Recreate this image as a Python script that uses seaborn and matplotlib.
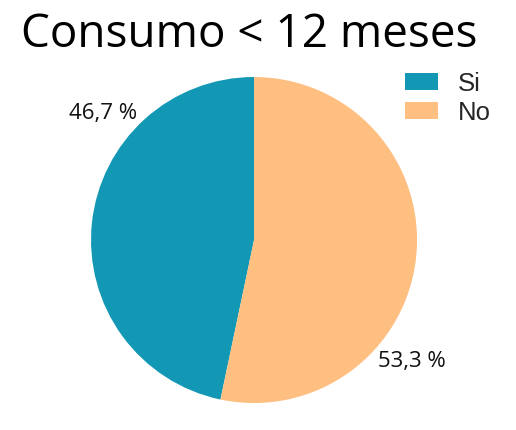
import matplotlib
matplotlib.use("Agg")
from matplotlib import pyplot as plt
from matplotlib.patches import Patch
import seaborn as sns

categorias = ["Si", "No"]
porcentajes = [46.7, 53.3]
etiquetas = ["46,7 %", "53,3 %"]
colores = ["#1298b4", "#ffbf80"]

sns.set_theme(style="white")
plt.rcParams["font.family"] = ["Open Sans", "DejaVu Sans"]

fig = plt.figure(figsize=(5.16, 4.31), dpi=100)
ax = fig.add_axes([0.1764, 0.0626, 0.6318, 0.7564])
ax.pie(porcentajes, colors=colores, startangle=90, counterclock=True,
       radius=1, wedgeprops=dict(linewidth=0))
ax.set_xlim(-1, 1)
ax.set_ylim(-1, 1)
ax.set_aspect("equal")
ax.axis("off")

# etiquetas fuera del circulo
ax.text(-0.926, 0.785, etiquetas[0], ha="center", va="center", fontsize=16, color="#111111")
ax.text(0.97, -0.74, etiquetas[1], ha="center", va="center", fontsize=16, color="#111111")

fig.text(0.483, 0.891, "Consumo < 12 meses", ha="center", va="baseline", fontsize=33, color="black")

handles = [Patch(facecolor=c, edgecolor="none") for c in colores]
fig.legend(handles, categorias, loc="upper left", bbox_to_anchor=(0.76, 0.862),
           frameon=False, handlelength=1.28, handleheight=0.62,
           labelspacing=0.2, handletextpad=0.78, borderpad=0,
           prop={"family": "Liberation Sans", "size": 18.5})

fig.savefig("out.png", dpi=100)
